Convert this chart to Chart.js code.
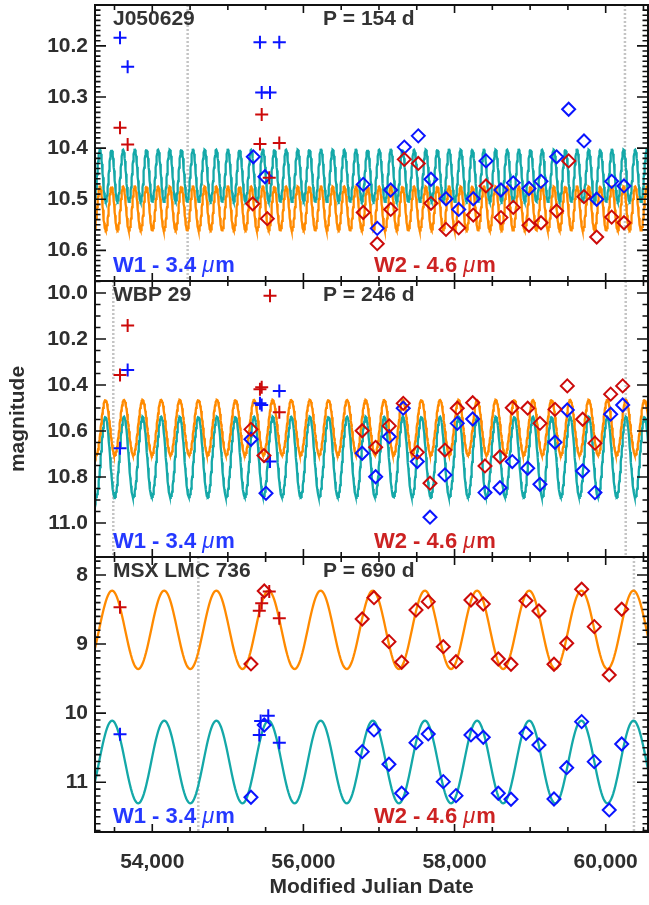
<!DOCTYPE html>
<html>
<head>
<meta charset="utf-8">
<script src="https://cdn.jsdelivr.net/npm/chart.js@4.4.1/dist/chart.umd.min.js"></script>
<style>
body { margin: 0; background: #fff; width: 649px; height: 905px; overflow: hidden; }
.panel { position: absolute; left: 0; width: 649px; }
</style>
</head>
<body>
<div class="panel" style="top:0px;height:283px"><canvas id="c1"></canvas></div>
<div class="panel" style="top:279px;height:280px"><canvas id="c2"></canvas></div>
<div class="panel" style="top:555px;height:350px"><canvas id="c3"></canvas></div>
<script>
// shared x axis: Modified Julian Date
var mjdRange = [53242, 60560];
var mjdLabels = [54000, 56000, 58000, 60000];

// J050629  (P = 154 d)
var j05Text = ["J050629", "P = 154 d"];
var j05YRange = [10.12, 10.66];
var j05YLabels = [10.2, 10.3, 10.4, 10.5, 10.6];
var j05YMinor = 0.01;
var j05Lines = [54468, 60255];
var j05Fit = [154, 53308, 10.454, 0.051, 10.518, 0.043]; // period, epoch of max, W1 mean, W1 amp, W2 mean, W2 amp
var j05W1CrossT = [53573, 53674, 55425, 55448, 55558, 55681];
var j05W1CrossM = [10.184, 10.241, 10.193, 10.291, 10.291, 10.193];
var j05W2CrossT = [53573, 53674, 55425, 55448, 55548, 55681];
var j05W2CrossM = [10.360, 10.393, 10.392, 10.334, 10.458, 10.390];
var j05W1T = [55337, 55491, 56792, 56977, 57155, 57335, 57520, 57688, 57887, 58055, 58248, 58416, 58614, 58777, 58985, 59144, 59351, 59510, 59713, 59881, 60079, 60242];
var j05W1M = [10.417, 10.456, 10.471, 10.557, 10.482, 10.398, 10.376, 10.461, 10.499, 10.520, 10.499, 10.425, 10.482, 10.468, 10.479, 10.465, 10.417, 10.324, 10.386, 10.500, 10.465, 10.474];
var j05W2T = [55329, 55522, 56792, 56977, 57155, 57335, 57520, 57688, 57887, 58055, 58248, 58416, 58614, 58777, 58985, 59144, 59351, 59510, 59713, 59881, 60079, 60242];
var j05W2M = [10.509, 10.538, 10.526, 10.587, 10.520, 10.422, 10.430, 10.508, 10.559, 10.556, 10.531, 10.474, 10.536, 10.516, 10.551, 10.546, 10.523, 10.425, 10.495, 10.574, 10.535, 10.546];

// WBP 29  (P = 246 d)
var wbpText = ["WBP 29", "P = 246 d"];
var wbpYRange = [9.948, 11.148];
var wbpYLabels = [10.0, 10.2, 10.4, 10.6, 10.8, 11.0];
var wbpYMinor = 0.05;
var wbpLines = [53484, 60265];
var wbpFit = [246, 53380, 10.713, 0.175, 10.585, 0.120];
var wbpW1CrossT = [53573, 53674, 55425, 55448, 55558, 55681];
var wbpW1CrossM = [10.675, 10.335, 10.480, 10.487, 10.733, 10.426];
var wbpW2CrossT = [53573, 53674, 55425, 55448, 55558, 55681];
var wbpW2CrossM = [10.357, 10.142, 10.419, 10.410, 10.012, 10.519];
var wbpW1T = [55306, 55505, 56778, 56956, 57136, 57321, 57507, 57675, 57873, 58036, 58240, 58403, 58601, 58764, 58968, 59130, 59329, 59492, 59695, 59858, 60066, 60225];
var wbpW1M = [10.636, 10.871, 10.697, 10.799, 10.625, 10.501, 10.733, 10.975, 10.791, 10.567, 10.548, 10.868, 10.847, 10.733, 10.762, 10.832, 10.649, 10.509, 10.774, 10.868, 10.527, 10.487];
var wbpW2T = [55306, 55478, 56778, 56956, 57136, 57321, 57507, 57675, 57873, 58036, 58240, 58403, 58601, 58764, 58968, 59130, 59329, 59492, 59695, 59858, 60066, 60225];
var wbpW2M = [10.593, 10.707, 10.599, 10.671, 10.578, 10.480, 10.693, 10.827, 10.683, 10.501, 10.477, 10.752, 10.712, 10.499, 10.501, 10.567, 10.506, 10.404, 10.549, 10.653, 10.440, 10.404];

// MSX LMC 736  (P = 690 d)
var msxText = ["MSX LMC 736", "P = 690 d"];
var msxYRange = [7.74, 11.72];
var msxYLabels = [8, 9, 10, 11];
var msxYMinor = 0.1;
var msxLines = [54609, 60374];
var msxFit = [690, 53468, 10.707, 0.598, 8.794, 0.567];
var msxW1CrossT = [53573, 55416, 55434, 55535, 55681];
var msxW1CrossM = [10.305, 10.315, 10.113, 10.036, 10.427];
var msxW2CrossT = [53573, 55416, 55448, 55548, 55681];
var msxW2CrossM = [8.467, 8.517, 8.410, 8.240, 8.627];
var msxW1T = [55306, 55482, 56778, 56934, 57132, 57300, 57490, 57652, 57851, 58019, 58217, 58380, 58579, 58747, 58945, 59117, 59316, 59484, 59682, 59849, 60047, 60212];
var msxW1M = [11.217, 10.171, 10.557, 10.243, 10.740, 11.159, 10.427, 10.301, 10.991, 11.194, 10.315, 10.349, 11.159, 11.246, 10.291, 10.460, 11.242, 10.789, 10.123, 10.702, 11.401, 10.446];
var msxW2T = [55306, 55482, 56778, 56934, 57132, 57300, 57490, 57652, 57851, 58019, 58217, 58380, 58579, 58747, 58945, 59117, 59316, 59484, 59682, 59849, 60047, 60212];
var msxW2M = [9.288, 8.232, 8.637, 8.329, 8.965, 9.263, 8.507, 8.386, 9.038, 9.255, 8.362, 8.420, 9.216, 9.292, 8.372, 8.521, 9.292, 8.988, 8.207, 8.748, 9.447, 8.496];

var blue = "#0a14ff", red = "#cc0a0a", teal = "#14a8a8", orange = "#ff8a00";

Chart.defaults.font.family = '"Liberation Sans", Arial, sans-serif';
Chart.defaults.font.weight = 'bold';
Chart.defaults.font.size = 21;
Chart.defaults.color = "#2e2e2e";

function pts(t, m) {
    var out = [];
    for (var i = 0; i < t.length; i++) out.push({ x: t[i], y: m[i] });
    return out;
}

// sine model with the fitted period, sampled across the x range
function model(fit, mean, amp) {
    var out = [];
    var step = fit[0] / 48;
    for (var t = mjdRange[0]; t <= mjdRange[1] + step; t += step) {
        var tt = Math.min(t, mjdRange[1]);
        out.push({ x: tt, y: mean - amp * Math.cos(2 * Math.PI * (tt - fit[1]) / fit[0]) });
    }
    return out;
}

function noPad(s) {
    s.paddingTop = 0; s.paddingBottom = 0; s.paddingLeft = 0; s.paddingRight = 0;
}

var framePlugin = {
    id: 'frame',
    afterDatasetsDraw: function (chart, args, o) {
        var a = chart.chartArea, ctx = chart.ctx;
        var xs = chart.scales.x, ys = chart.scales.y;
        ctx.save();
        ctx.strokeStyle = "#111";
        ctx.lineWidth = 1.6;
        ctx.beginPath();
        for (var t = Math.ceil(xs.min / 500) * 500; t <= xs.max; t += 500) {
            var px = xs.getPixelForValue(t);
            var lx = (t % 2000 === 0) ? 8 : 5;
            ctx.moveTo(px, a.bottom); ctx.lineTo(px, a.bottom - lx);
            ctx.moveTo(px, a.top); ctx.lineTo(px, a.top + lx);
        }
        var major = o.labels[1] - o.labels[0];
        var ratio = Math.round(major / o.minor);
        var base = Math.round(o.labels[0] / o.minor);
        var n0 = Math.ceil(ys.min / o.minor - 1e-6), n1 = Math.floor(ys.max / o.minor + 1e-6);
        for (var n = n0; n <= n1; n++) {
            var py = ys.getPixelForValue(n * o.minor);
            var ly = (((n - base) % ratio + ratio) % ratio === 0) ? 11 : 5.5;
            ctx.moveTo(a.left, py); ctx.lineTo(a.left + ly, py);
            ctx.moveTo(a.right, py); ctx.lineTo(a.right - ly, py);
        }
        ctx.stroke();
        ctx.lineWidth = 2;
        ctx.strokeRect(a.left, a.top, a.right - a.left, a.bottom - a.top);
        ctx.restore();
    }
};

function bandLabel(ctx, txt, col, x, y) {
    ctx.fillStyle = col;
    ctx.font = 'bold 22px "Liberation Sans"';
    ctx.fillText(txt, x, y);
    var w = ctx.measureText(txt).width;
    ctx.font = 'italic 22px "Liberation Sans"';
    ctx.fillText("\u03bc", x + w + 6, y);
    var w2 = ctx.measureText("\u03bc").width;
    ctx.font = 'bold 22px "Liberation Sans"';
    ctx.fillText("m", x + w + 6 + w2 + 1, y);
}

var textPlugin = {
    id: 'panelText',
    afterDatasetsDraw: function (chart, args, o) {
        var a = chart.chartArea, ctx = chart.ctx;
        ctx.save();
        ctx.textBaseline = 'middle';
        ctx.textAlign = 'left';
        ctx.font = 'bold 21px "Liberation Sans"';
        ctx.fillStyle = "#333";
        ctx.fillText(o.text[0], a.left + 18, a.top + 14.5);
        ctx.fillText(o.text[1], 323, a.top + 14.5);
        bandLabel(ctx, "W1 - 3.4", "#2438ff", a.left + 18, a.bottom - 15);
        bandLabel(ctx, "W2 - 4.6", "#cc2222", 374, a.bottom - 15);
        ctx.restore();
    }
};

function makePanel(id, p) {
    var datasets = [
        { data: pts(p.w2t, p.w2m), pointStyle: 'rectRot', pointRadius: 6.5, borderColor: red, backgroundColor: 'rgba(0,0,0,0)', borderWidth: 2, order: 0 },
        { data: pts(p.w2ct, p.w2cm), pointStyle: 'cross', pointRadius: 6.5, borderColor: red, borderWidth: 2, order: 0 },
        { data: pts(p.w1t, p.w1m), pointStyle: 'rectRot', pointRadius: 6.5, borderColor: blue, backgroundColor: 'rgba(0,0,0,0)', borderWidth: 2, order: 1 },
        { data: pts(p.w1ct, p.w1cm), pointStyle: 'cross', pointRadius: 6.5, borderColor: blue, borderWidth: 2, order: 1 },
        { data: model(p.fit, p.fit[4], p.fit[5]), showLine: true, pointRadius: 0, borderColor: orange, borderWidth: 2.3, order: 2 },
        { data: model(p.fit, p.fit[2], p.fit[3]), showLine: true, pointRadius: 0, borderColor: teal, borderWidth: 2.3, order: 3 }
    ];
    p.lines.forEach(function (t) {
        datasets.push({ data: [{ x: t, y: p.yRange[0] }, { x: t, y: p.yRange[1] }], showLine: true, pointRadius: 0,
            borderColor: "#c4c4c4", borderWidth: 2.5, borderDash: [2, 2], order: 4 });
    });

    return new Chart(document.getElementById(id), {
        type: 'scatter',
        data: { datasets: datasets },
        options: {
            responsive: true,
            maintainAspectRatio: false,
            animation: false,
            events: [],
            layout: { autoPadding: false, padding: { top: p.padTop, bottom: p.padBottom, left: 0, right: 1 } },
            plugins: {
                legend: { display: false },
                tooltip: { enabled: false },
                frame: { labels: p.yLabels, minor: p.yMinor },
                panelText: { text: p.text }
            },
            scales: {
                x: {
                    type: 'linear', min: mjdRange[0], max: mjdRange[1],
                    display: p.showX,
                    grid: { display: false, drawTicks: false },
                    border: { display: false },
                    ticks: { padding: 18, maxRotation: 0, autoSkip: false, color: "#2e2e2e" },
                    title: { display: p.showX, text: "Modified Julian Date", padding: { top: 0, bottom: 5 }, color: "#2e2e2e" },
                    afterBuildTicks: function (s) { s.ticks = mjdLabels.map(function (v) { return { value: v }; }); },
                    afterFit: function (s) { s.height = p.showX ? 73 : 0; noPad(s); }
                },
                y: {
                    type: 'linear', reverse: true, min: p.yRange[0], max: p.yRange[1],
                    grid: { display: false, drawTicks: false },
                    border: { display: false },
                    ticks: {
                        padding: 7, autoSkip: false, color: "#2e2e2e",
                        callback: function (v) { return v.toFixed(p.dec); }
                    },
                    title: { display: p.showY, text: "magnitude", padding: { top: 6, bottom: 0 }, color: "#2e2e2e" },
                    afterBuildTicks: function (s) { s.ticks = p.yLabels.map(function (v) { return { value: v }; }); },
                    afterFit: function (s) { s.width = 95; noPad(s); }
                }
            }
        },
        plugins: [framePlugin, textPlugin]
    });
}

makePanel("c1", {
    text: j05Text, yRange: j05YRange, yLabels: j05YLabels, yMinor: j05YMinor, lines: j05Lines, fit: j05Fit, dec: 1,
    w1ct: j05W1CrossT, w1cm: j05W1CrossM, w2ct: j05W2CrossT, w2cm: j05W2CrossM,
    w1t: j05W1T, w1m: j05W1M, w2t: j05W2T, w2m: j05W2M,
    padTop: 5, padBottom: 2, showX: false, showY: false
});
makePanel("c2", {
    text: wbpText, yRange: wbpYRange, yLabels: wbpYLabels, yMinor: wbpYMinor, lines: wbpLines, fit: wbpFit, dec: 1,
    w1ct: wbpW1CrossT, w1cm: wbpW1CrossM, w2ct: wbpW2CrossT, w2cm: wbpW2CrossM,
    w1t: wbpW1T, w1m: wbpW1M, w2t: wbpW2T, w2m: wbpW2M,
    padTop: 2, padBottom: 2, showX: false, showY: true
});
makePanel("c3", {
    text: msxText, yRange: msxYRange, yLabels: msxYLabels, yMinor: msxYMinor, lines: msxLines, fit: msxFit, dec: 0,
    w1ct: msxW1CrossT, w1cm: msxW1CrossM, w2ct: msxW2CrossT, w2cm: msxW2CrossM,
    w1t: msxW1T, w1m: msxW1M, w2t: msxW2T, w2m: msxW2M,
    padTop: 2, padBottom: 0, showX: true, showY: false
});
</script>
</body>
</html>
